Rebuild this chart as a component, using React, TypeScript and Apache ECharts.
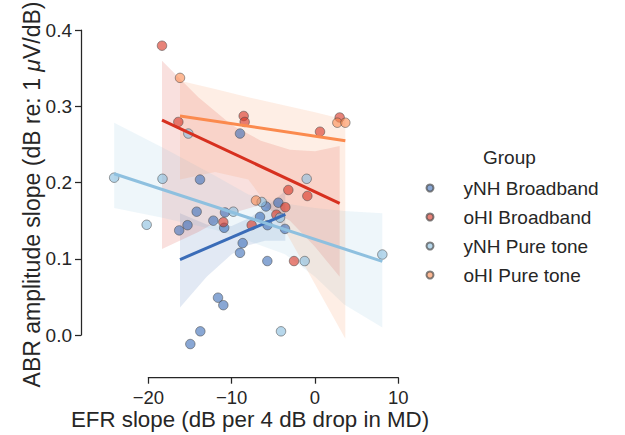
import { useEffect, useRef, useState } from "react";
import * as echarts from "echarts";

// ---------- data ----------
const groups = ["yNH Broadband", "oHI Broadband", "yNH Pure tone", "oHI Pure tone"];
const lineColors = ["#3a6cb8", "#d7301f", "#8ec0df", "#fb8a4e"];
const pointColors = [
  "rgba(58,108,184,0.75)",
  "rgba(215,48,31,0.75)",
  "rgba(142,192,223,0.8)",
  "rgba(251,138,78,0.75)",
];

// yNH Broadband
const yNHBroadbandX = [-13.8, -9.0, -14.2, -12.2, -10.8, -10.9, -15.3, -16.3, -6.6, -5.7, -5.88, -4.4, -8.68, -9.0, -5.72, -11.64, -11.0, -13.76, -14.96, -3.6];
const yNHBroadbandY = [0.2, 0.2615, 0.157, 0.145, 0.156, 0.1355, 0.139, 0.132, 0.15, 0.139, 0.164, 0.169, 0.115, 0.102, 0.091, 0.042, 0.032, -0.003, -0.02, 0.134];
// oHI Broadband
const oHIBroadbandX = [-18.36, -16.4, -8.56, -8.44, 2.96, 0.6, -3.2, -0.92, -3.56, -4.64, -7.6, -11.0, -2.52];
const oHIBroadbandY = [0.379, 0.277, 0.285, 0.277, 0.283, 0.264, 0.186, 0.178, 0.163, 0.153, 0.139, 0.143, 0.091];
// yNH Pure tone
const yNHPureToneX = [-24.1, -18.3, -20.2, -15.2, -9.8, -6.4, -4.2, -1.0, -1.24, -4.08, 8.08];
const yNHPureToneY = [0.2025, 0.201, 0.1395, 0.2615, 0.157, 0.17, 0.149, 0.201, 0.091, -0.003, 0.0997];
// oHI Pure tone
const oHIPureToneX = [-16.2, 2.68, 3.64, -7.08];
const oHIPureToneY = [0.336, 0.276, 0.276, 0.172];

// regression lines (end points)
const fitYNHBroadband = [[-16.2, 0.093], [-3.56, 0.1535]];
const fitOHIBroadband = [[-18.36, 0.2795], [2.96, 0.168]];
const fitYNHPureTone = [[-24.1, 0.2078], [8.08, 0.0906]];
const fitOHIPureTone = [[-16.2, 0.285], [3.64, 0.252]];

// confidence bands
const bandYNHBroadbandX = [-16.2, -13, -10, -8, -6, -3.56];
const bandYNHBroadbandHi = [0.155, 0.14, 0.138, 0.148, 0.162, 0.185];
const bandYNHBroadbandLo = [0.029, 0.07, 0.1, 0.112, 0.118, 0.118];

const bandOHIBroadbandX = [-18.36, -14, -10, -6.5, -3, 0, 2.96];
const bandOHIBroadbandHi = [0.359, 0.31, 0.273, 0.252, 0.24, 0.238, 0.245];
const bandOHIBroadbandLo = [0.107, 0.13, 0.155, 0.166, 0.145, 0.11, 0.07];

const bandYNHPureToneX = [-24.1, -18.3, -12, -8, -3.6, 0, 3.5, 8.08];
const bandYNHPureToneHi = [0.276, 0.243, 0.205, 0.18, 0.168, 0.162, 0.158, 0.155];
const bandYNHPureToneLo = [0.162, 0.149, 0.133, 0.118, 0.1, 0.07, 0.033, 0.002];

const bandOHIPureToneX = [-16.2, -12, -8, -4, 0, 3.64];
const bandOHIPureToneHi = [0.332, 0.321, 0.31, 0.3, 0.29, 0.28];
const bandOHIPureToneLo = [0.2, 0.21, 0.2, 0.14, 0.06, -0.013];

const xTicks = { min: -20, max: 10, interval: 10 };
const yTicks = { min: 0, max: 0.4, interval: 0.1 };

// ---------- build ----------
const scatterX = [yNHBroadbandX, oHIBroadbandX, yNHPureToneX, oHIPureToneX];
const scatterY = [yNHBroadbandY, oHIBroadbandY, yNHPureToneY, oHIPureToneY];
const fits = [fitYNHBroadband, fitOHIBroadband, fitYNHPureTone, fitOHIPureTone];
const bands = [
  [bandYNHBroadbandX, bandYNHBroadbandLo, bandYNHBroadbandHi],
  [bandOHIBroadbandX, bandOHIBroadbandLo, bandOHIBroadbandHi],
  [bandYNHPureToneX, bandYNHPureToneLo, bandYNHPureToneHi],
  [bandOHIPureToneX, bandOHIPureToneLo, bandOHIPureToneHi],
];

const ink = "#262626";
const font = "'Liberation Sans', Arial, Helvetica, sans-serif";

function hexToRgba(hex: string, a: number) {
  const n = parseInt(hex.slice(1), 16);
  return `rgba(${(n >> 16) & 255},${(n >> 8) & 255},${n & 255},${a})`;
}

const hiddenAxis = (gridIndex: number) => ({
  type: "value",
  gridIndex,
  min: 0,
  max: 1,
  show: false,
});

function buildOption() {
  const series: any[] = [];
  groups.forEach((g, gi) => {
    series.push({
      type: "scatter",
      name: g,
      xAxisIndex: 0,
      yAxisIndex: 0,
      symbolSize: 9.5,
      data: scatterX[gi].map((x, i) => [x, scatterY[gi][i]]),
      itemStyle: {
        color: pointColors[gi],
        borderColor: "rgba(70,70,70,0.85)",
        borderWidth: 0.8,
      },
      z: 2,
    });
    const [bx, lo, hi] = bands[gi];
    series.push({
      type: "custom",
      name: g + " CI",
      xAxisIndex: 0,
      yAxisIndex: 0,
      silent: true,
      data: [[bx[0], lo[0]]],
      renderItem: (_params: any, api: any) => {
        const upper = bx.map((x, i) => api.coord([x, hi[i]]));
        const lower = bx.map((x, i) => api.coord([x, lo[i]])).reverse();
        return {
          type: "polygon",
          shape: { points: upper.concat(lower) },
          style: { fill: hexToRgba(lineColors[gi], 0.15) },
        };
      },
      z: 2,
    });
  });
  groups.forEach((g, gi) => {
    series.push({
      type: "line",
      name: g + " fit",
      xAxisIndex: 0,
      yAxisIndex: 0,
      data: fits[gi],
      symbol: "none",
      lineStyle: { color: lineColors[gi], width: 3 },
      z: 5,
    });
  });

  return {
    animation: false,
    textStyle: { fontFamily: font },
    title: {
      text: "Group",
      left: 483,
      top: 148,
      padding: 0,
      textStyle: { fontSize: 19, fontWeight: "normal", color: ink, fontFamily: font },
    },
    legend: {
      orient: "vertical",
      left: 425.5,
      top: 178.5,
      padding: 0,
      itemWidth: 57,
      itemHeight: 7,
      itemGap: 10,
      icon: "circle",
      selectedMode: false,
      data: groups,
      textStyle: { fontSize: 19, color: ink, lineHeight: 19, fontFamily: font },
    },
    grid: [
      { left: 101.67, top: 30, width: 296.67, height: 335.5 },
      { left: 148.33, top: 300, width: 250, height: 77.7 },
      { left: 81, top: 30, width: 50, height: 305 },
    ],
    xAxis: [
      {
        type: "value",
        gridIndex: 0,
        min: -25.6,
        max: 10,
        axisLine: { show: false },
        axisTick: { show: false },
        axisLabel: { show: false },
        splitLine: { show: false },
        name: "EFR slope (dB per 4 dB drop in MD)",
        nameLocation: "middle",
        nameGap: 49,
        nameTextStyle: { fontSize: 22.3, lineHeight: 22, color: ink, fontFamily: font },
      },
      {
        type: "value",
        gridIndex: 1,
        min: xTicks.min,
        max: xTicks.max,
        interval: xTicks.interval,
        position: "bottom",
        axisLine: { show: true, lineStyle: { color: ink, width: 1.25 } },
        axisTick: { show: true, length: 6, lineStyle: { color: ink, width: 1.25 } },
        axisLabel: {
          fontSize: 18.5,
          lineHeight: 18,
          color: ink,
          margin: 11,
          fontFamily: font,
          formatter: (v: number) => (v < 0 ? "\u2212" + Math.abs(v) : String(v)),
        },
        splitLine: { show: false },
      },
      hiddenAxis(2),
    ],
    yAxis: [
      {
        type: "value",
        gridIndex: 0,
        min: -0.04,
        max: 0.4,
        axisLine: { show: false },
        axisTick: { show: false },
        axisLabel: { show: false },
        splitLine: { show: false },
        name: "{a|ABR amplitude slope (dB re: 1 }{b|\u03bc}{a|V/dB)}",
        nameLocation: "middle",
        nameGap: 58,
        nameTextStyle: {
          fontSize: 23,
          color: ink,
          fontFamily: font,
          rich: {
            a: { fontSize: 23, color: ink, fontFamily: font },
            b: { fontSize: 23, color: ink, fontFamily: font, fontStyle: "italic" },
          },
        },
      },
      hiddenAxis(1),
      {
        type: "value",
        gridIndex: 2,
        min: yTicks.min,
        max: yTicks.max,
        interval: yTicks.interval,
        position: "left",
        axisLine: { show: true, lineStyle: { color: ink, width: 1.25 } },
        axisTick: { show: true, length: 6, lineStyle: { color: ink, width: 1.25 } },
        axisLabel: {
          fontSize: 19,
          color: ink,
          margin: 9,
          fontFamily: font,
          formatter: (v: number) => v.toFixed(1),
        },
        splitLine: { show: false },
      },
    ],
    series,
  };
}

export default function App() {
  const ref = useRef<HTMLDivElement>(null);
  const [err, setErr] = useState<string>("");
  useEffect(() => {
    if (!ref.current) return;
    const chart = echarts.init(ref.current, null, { renderer: "svg" });
    try {
      chart.setOption(buildOption() as any);
    } catch (e: any) {
      setErr(String(e && e.stack ? e.stack : e));
    }
    return () => chart.dispose();
  }, []);
  return (
    <>
      <div
        ref={ref}
        style={{ position: "fixed", left: 0, top: 0, width: 625, height: 435, background: "#fff" }}
      />
      {err ? (
        <pre style={{ position: "fixed", left: 0, top: 0, fontSize: 9, whiteSpace: "pre-wrap", zIndex: 10 }}>{err}</pre>
      ) : null}
    </>
  );
}
